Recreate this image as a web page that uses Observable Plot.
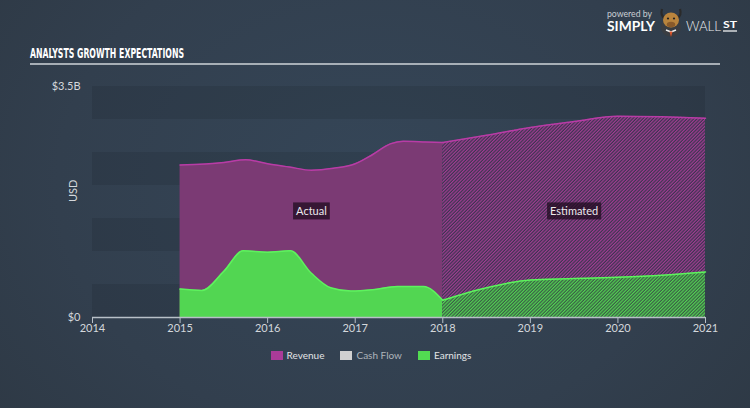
<!DOCTYPE html>
<html><head><meta charset="utf-8">
<script src="https://cdn.jsdelivr.net/npm/d3@7"></script>
<script src="https://cdn.jsdelivr.net/npm/@observablehq/plot@0.6"></script>
<style>
body{margin:0;background:#313e4c;}
#wrap{position:relative;width:750px;height:408px;overflow:hidden;
 background:radial-gradient(ellipse 65% 95% at 50% 45%, #354658 0%, #323f4e 65%, #2e3945 100%);
 font-family:Lato,"Open Sans",sans-serif;}
#header{position:absolute;left:0;top:0;}
#chart{position:absolute;left:0;top:70px;}
#legend{position:absolute;top:349px;left:-4px;width:750px;display:flex;justify-content:center;align-items:center;font-size:10px;color:#e2e4e6;}
.item{display:flex;align-items:center;margin:0 8px;}
.sw{width:12px;height:9px;margin-right:4px;}
</style></head>
<body><div id="wrap">
<svg id="header" width="750" height="70">
  <text x="30" y="58" fill="#ffffff" font-family="'Liberation Sans Narrow','DejaVu Sans Condensed',sans-serif" font-weight="bold" font-size="14.5" textLength="154" lengthAdjust="spacingAndGlyphs">ANALYSTS GROWTH EXPECTATIONS</text>
  <line x1="30" x2="720" y1="64" y2="64" stroke="#cfd4d9" stroke-width="1.5"/>
  <text x="607" y="17" fill="#c9ced3" font-family="Lato,sans-serif" font-size="9.5" textLength="45" lengthAdjust="spacingAndGlyphs">powered by</text>
  <text x="607" y="31" fill="#ffffff" font-family="Lato,sans-serif" font-weight="bold" font-size="13.5" textLength="48" lengthAdjust="spacingAndGlyphs">SIMPLY</text>
  <circle cx="671" cy="27" r="10" fill="#3a3d42"/>
  <path d="M662,9 Q660,16 665,18 M680,9 Q682,16 677,18" stroke="#2a2a2a" stroke-width="2.2" fill="none"/>
  <ellipse cx="671" cy="20" rx="8" ry="7.5" fill="#b9843d"/>
  <circle cx="668" cy="18.5" r="1.1" fill="#222"/>
  <circle cx="674" cy="18.5" r="1.1" fill="#222"/>
  <ellipse cx="671" cy="24.5" rx="4.2" ry="2.8" fill="#8a5a2a"/>
  <path d="M666,30 L671,32 L676,30" stroke="#f0f0f0" stroke-width="1.4" fill="none"/>
  <path d="M669.5,31.5 L671,37 L672.5,31.5 Z" fill="#e0552a"/>
  <text x="686" y="31" fill="#eceef0" font-family="Lato,sans-serif" font-weight="300" font-size="13.5" textLength="35" lengthAdjust="spacingAndGlyphs">WALL</text>
  <text x="723" y="28" fill="#ffffff" font-family="Lato,sans-serif" font-weight="bold" font-size="10" textLength="14" lengthAdjust="spacingAndGlyphs">ST</text>
  <line x1="723" x2="737" y1="31" y2="31" stroke="#ffffff" stroke-width="1.2"/>
</svg>
<div id="chart"></div>
<div id="legend"></div>
</div>
<script>
// ---- data (values in USD billions) ----
const xTicks = [2014, 2015, 2016, 2017, 2018, 2019, 2020, 2021];
const yTicks = [0, 3.5];
const yTickLabels = ["$0", "$3.5B"];
const bandStarts = [0, 1, 2, 3];
const bandSize = 0.5;

const revenueActualYears = [2015, 2015.5, 2015.75, 2016, 2016.25, 2016.5, 2016.75, 2017, 2017.2, 2017.4, 2017.55, 2017.8, 2018];
const revenueActual      = [2.31, 2.35, 2.39, 2.33, 2.28, 2.23, 2.26, 2.33, 2.47, 2.63, 2.67, 2.66, 2.65];
const earningsActualYears = [2015, 2015.25, 2015.5, 2015.72, 2016, 2016.26, 2016.5, 2016.72, 2016.95, 2017.2, 2017.48, 2017.78, 2018];
const earningsActual      = [0.43, 0.41, 0.70, 1.01, 0.99, 1.01, 0.67, 0.45, 0.40, 0.42, 0.47, 0.47, 0.26];

const estimateYears = [2018, 2018.5, 2019, 2019.5, 2020, 2020.5, 2021];
const revenueEst    = [2.65, 2.76, 2.88, 2.97, 3.05, 3.04, 3.02];
const earningsEst   = [0.26, 0.45, 0.57, 0.59, 0.61, 0.64, 0.69];

const annotationLabels = ["Actual", "Estimated"];
const annotationYears = [2016.5, 2019.5];
const annotationValue = 1.6;

const legendLabels = ["Revenue", "Cash Flow", "Earnings"];
const legendColors = ["#a93b98", "#d0d0d0", "#52dc52"];
const legendTextColors = ["#e2e4e6", "#aeb4bb", "#e2e4e6"];

// ---- build tables ----
const rows = (xs, ys) => xs.map((x, i) => ({x, y: ys[i]}));
const revA = rows(revenueActualYears, revenueActual);
const earnA = rows(earningsActualYears, earningsActual);
const revE = rows(estimateYears, revenueEst);
const earnE = rows(estimateYears, earningsEst);
const bands = bandStarts.map(b => ({y1: b, y2: b + bandSize}));
const ann = annotationLabels.map((t, i) => ({t, x: annotationYears[i], y: annotationValue}));

const curve = "monotone-x";
const svg = Plot.plot({
  width: 750, height: 277,
  marginLeft: 92, marginRight: 45, marginTop: 16, marginBottom: 30,
  style: {background: "transparent", color: "#d4d8dc", fontSize: "11px", fontFamily: "Lato, 'Open Sans', sans-serif"},
  x: {domain: [2014, 2021]},
  y: {domain: [0, 3.5]},
  marks: [
    Plot.rect(bands, {x1: () => 2014, x2: () => 2021, y1: "y1", y2: "y2", fill: "#000", fillOpacity: 0.085}),
    Plot.areaY(revA, {x: "x", y: "y", fill: "#7b3a74", curve}),
    Plot.areaY(revE, {x: "x", y: "y", fill: "url(#hatchRev)", curve}),
    Plot.areaY(earnA, {x: "x", y: "y", fill: "#52d652", curve}),
    Plot.areaY(earnE, {x: "x", y: "y", fill: "url(#hatchEarn)", curve}),
    Plot.lineY(revA, {x: "x", y: "y", stroke: "#b83ca6", strokeWidth: 1.5, curve}),
    Plot.lineY(revE, {x: "x", y: "y", stroke: "#b83ca6", strokeWidth: 1.5, curve}),
    Plot.lineY(earnA, {x: "x", y: "y", stroke: "#5ef25e", strokeWidth: 1.5, curve}),
    Plot.lineY(earnE, {x: "x", y: "y", stroke: "#5ef25e", strokeWidth: 1.5, curve}),
    Plot.ruleY([0], {stroke: "#b8c0c8", strokeWidth: 1.5}),
    Plot.axisX({ticks: xTicks, tickFormat: d => String(d), tickSize: 6, tickPadding: 1, stroke: "#b8c0c8", strokeOpacity: 1, label: null, fontSize: 11}),
    Plot.axisY({ticks: yTicks, tickFormat: (d) => yTickLabels[yTicks.indexOf(d)], tickSize: 0, tickPadding: 12, label: null, fontSize: 11}),
    Plot.text(["USD"], {frameAnchor: "left", dx: -19, rotate: -90, fill: "#d4d8dc", fontSize: 11}),
    Plot.text(ann, {x: "x", y: "y", text: "t", fill: "#eceaec", fontSize: 11})
  ]
});
document.getElementById("chart").appendChild(svg);

// hatch patterns for estimates
const defs = d3.select(svg).insert("defs", ":first-child");
function hatch(id, bg, fg) {
  const p = defs.append("pattern").attr("id", id).attr("patternUnits", "userSpaceOnUse")
    .attr("width", 2.4).attr("height", 2.4).attr("patternTransform", "rotate(45)");
  p.append("rect").attr("width", 2.4).attr("height", 2.4).attr("fill", bg);
  p.append("rect").attr("width", 1.2).attr("height", 2.4).attr("fill", fg);
}
hatch("hatchRev", "#3b3450", "#a03d91");
hatch("hatchEarn", "#3a5c46", "#52d252");

// label boxes
d3.select(svg).selectAll("text").filter(function() { return annotationLabels.includes(this.textContent); })
  .each(function() {
    const b = this.getBBox();
    const r = document.createElementNS("http://www.w3.org/2000/svg", "rect");
    r.setAttribute("x", b.x - 3); r.setAttribute("y", b.y - 2);
    r.setAttribute("width", b.width + 6); r.setAttribute("height", b.height + 4);
    r.setAttribute("fill", "rgba(28,10,28,0.72)");
    const tr = this.getAttribute("transform"); if (tr) r.setAttribute("transform", tr);
    this.parentNode.insertBefore(r, this);
  });

// legend
const lg = d3.select("#legend");
legendLabels.forEach((l, i) => {
  const it = lg.append("div").attr("class", "item");
  it.append("div").attr("class", "sw").style("background", legendColors[i]);
  it.append("span").text(l).style("color", legendTextColors[i]);
});
</script>
</body></html>
